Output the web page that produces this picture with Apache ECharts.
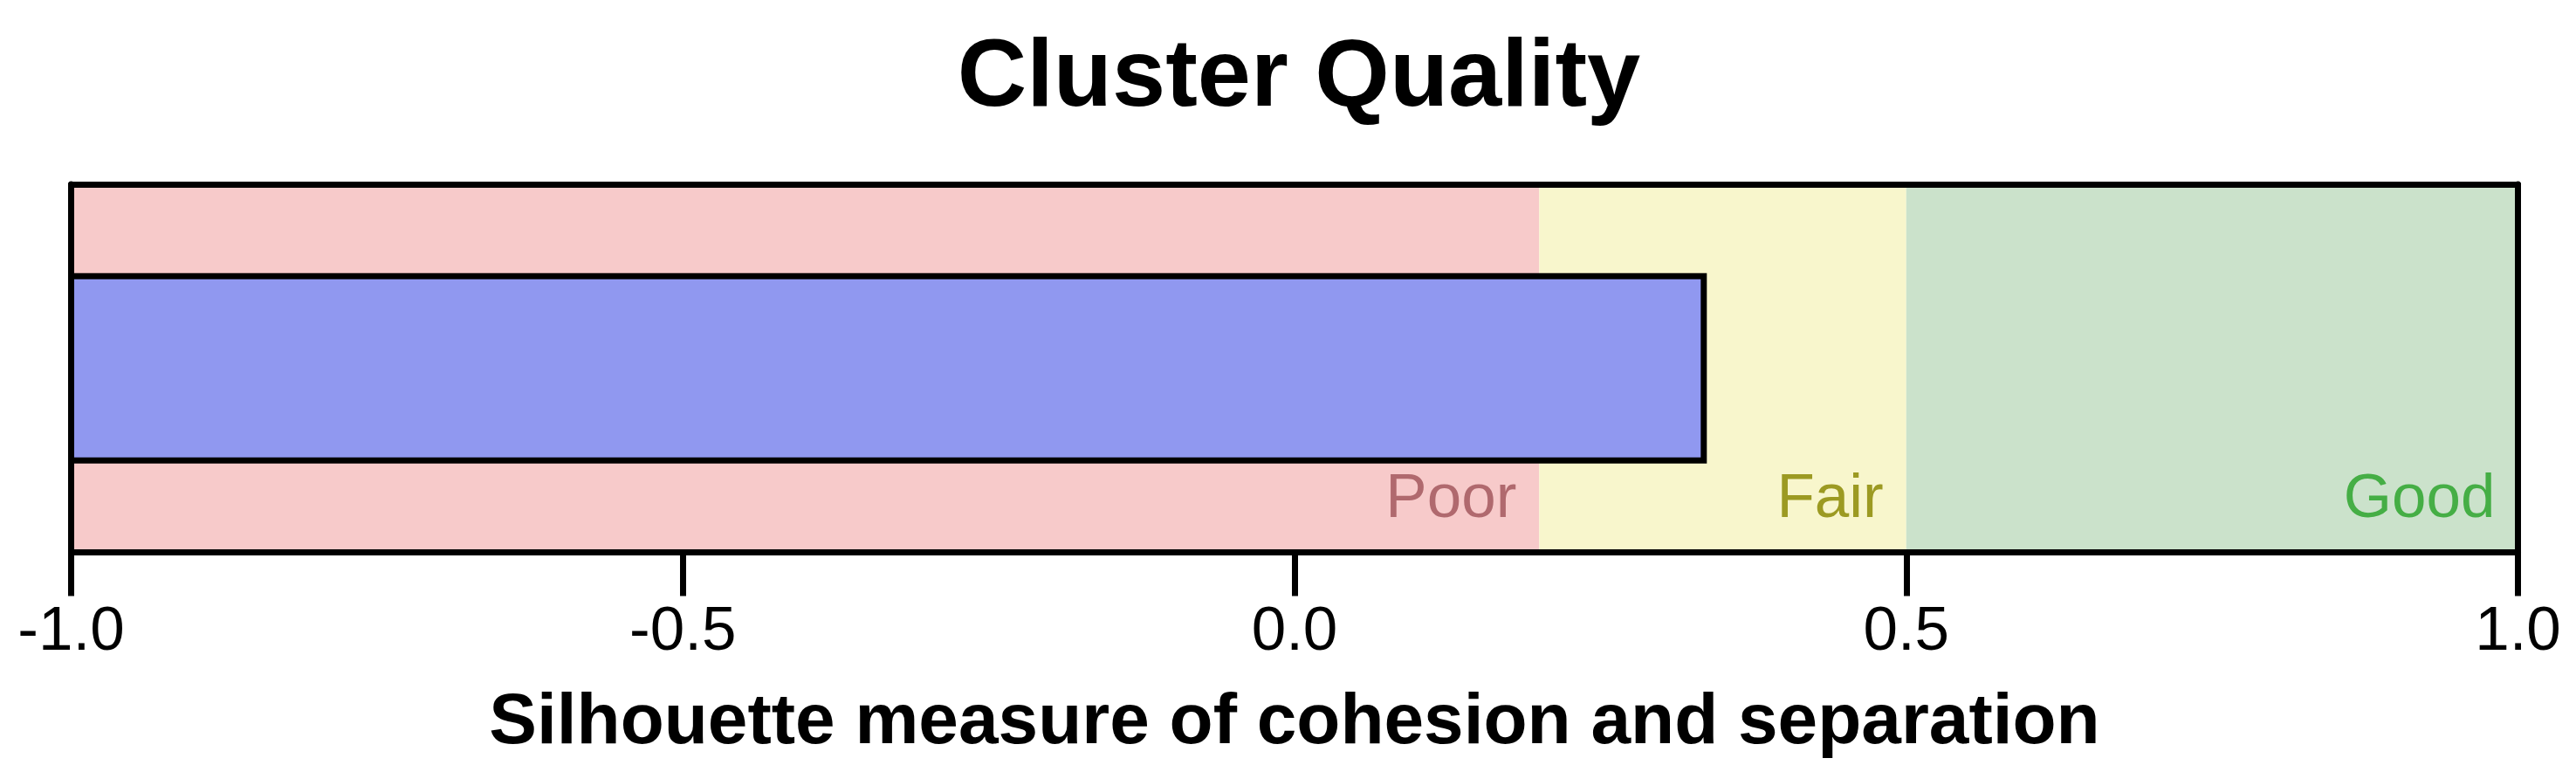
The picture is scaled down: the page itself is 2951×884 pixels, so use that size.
<!DOCTYPE html>
<html>
<head>
<meta charset="utf-8">
<style>
  html, body { margin: 0; padding: 0; background: #ffffff; }
  #chart { width: 2951px; height: 884px; }
</style>
<script src="https://cdn.jsdelivr.net/npm/echarts@6/dist/echarts.min.js"></script>
</head>
<body>
<div id="chart"></div>
<script>
// ---- data ----
const titleText = 'Cluster Quality';
const axisTitle = 'Silhouette measure of cohesion and separation';
const categories = ['Silhouette'];
const silhouetteValues = [0.337];
const axisMin = -1.0;
const axisMax = 1.0;
const axisStep = 0.5;
const bandNames = ['Poor', 'Fair', 'Good'];
const bandStarts = [-1.0, 0.2, 0.5];
const bandEnds = [0.2, 0.5, 1.0];

// ---- styles ----
const bandFill = ['#F7CACA', '#F8F6CC', '#CBE2CB'];
const bandText = ['#B0696E', '#9C9A22', '#45AE45'];
const FONT = '"Liberation Sans", Arial, Helvetica, sans-serif';
const LINE_W = 7;
// ECharts draws the bar border inside the bar; start the bar half a border
// to the left so its outline sits on the frame line, as in the original.
const barStart = axisMin - 0.0025;

const chart = echarts.init(document.getElementById('chart'), null, { renderer: 'canvas' });

const bandData = bandNames.map((n, i) => [
  {
    name: n,
    xAxis: bandStarts[i],
    itemStyle: { color: bandFill[i], opacity: 1, borderWidth: 0 },
    label: { color: bandText[i] }
  },
  { xAxis: bandEnds[i] }
]);

const frameAxisCommon = {
  axisLine: { show: true, onZero: false, lineStyle: { color: '#000', width: LINE_W } },
  axisTick: { show: false },
  axisLabel: { show: false },
  splitLine: { show: false },
  z: 10
};

const option = {
  backgroundColor: '#ffffff',
  animation: false,
  title: {
    text: titleText,
    left: 1483,
    textAlign: 'center',
    top: 31,
    textStyle: { fontFamily: FONT, fontSize: 110, fontWeight: 'bold', color: '#000' }
  },
  grid: { left: 81.5, right: 66.5, top: 211, bottom: 251.5, containLabel: false },
  xAxis: [
    {
      type: 'value',
      position: 'bottom',
      min: axisMin,
      max: axisMax,
      interval: axisStep,
      startValue: barStart,
      name: axisTitle,
      nameLocation: 'middle',
      nameGap: 155,
      nameTextStyle: { fontFamily: FONT, fontSize: 82, fontWeight: 'bold', color: '#000' },
      axisLine: { show: true, onZero: false, lineStyle: { color: '#000', width: LINE_W } },
      axisTick: { show: true, inside: false, length: 50, lineStyle: { color: '#000', width: LINE_W } },
      axisLabel: {
        show: true,
        margin: 56,
        fontFamily: FONT,
        fontSize: 71,
        color: '#000',
        formatter: v => v.toFixed(1)
      },
      splitLine: { show: false },
      z: 10
    },
    Object.assign({ type: 'value', position: 'top', min: axisMin, max: axisMax, interval: axisStep }, frameAxisCommon)
  ],
  yAxis: [
    Object.assign({ type: 'category', position: 'left', data: categories }, frameAxisCommon),
    Object.assign({ type: 'category', position: 'right', data: categories }, frameAxisCommon)
  ],
  series: [
    {
      type: 'line',
      xAxisIndex: 0,
      yAxisIndex: 0,
      data: [],
      z: 1,
      silent: true,
      markArea: {
        silent: true,
        z: 1,
        label: {
          show: true,
          position: 'insideBottomRight',
          distance: 26,
          offset: [0, 1],
          fontFamily: FONT,
          fontSize: 71,
          formatter: p => p.name
        },
        emphasis: { disabled: true },
        data: bandData
      }
    },
    {
      type: 'bar',
      xAxisIndex: 0,
      yAxisIndex: 0,
      data: silhouetteValues,
      barWidth: '51.7%',
      z: 3,
      silent: true,
      itemStyle: { color: '#9098F0', borderColor: '#000', borderWidth: LINE_W }
    }
  ]
};

chart.setOption(option);
</script>
</body>
</html>
